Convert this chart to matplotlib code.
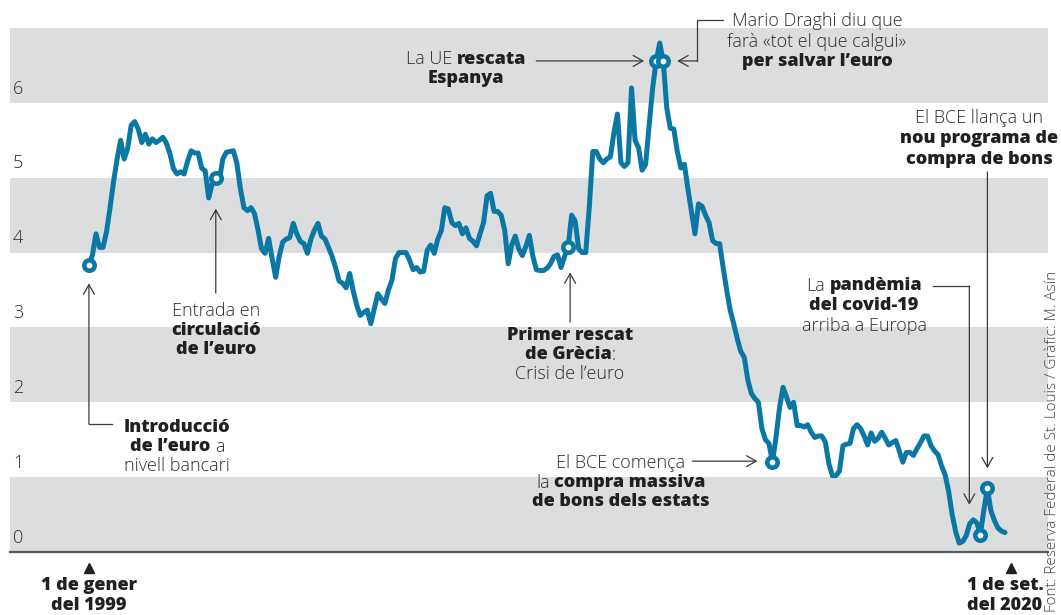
import numpy as np
import matplotlib
matplotlib.use('Agg')
import matplotlib.pyplot as plt
from matplotlib.lines import Line2D
from matplotlib.transforms import IdentityTransform, blended_transform_factory

plt.rcParams['font.family'] = ['Open Sans', 'DejaVu Sans']

W, H = 1061, 615

# Spanish 10-year bond yield, monthly, Jan 1999 - Sep 2020 (%)
yield_1999 = [3.83, 3.97, 4.25, 4.07, 4.07, 4.28, 4.60, 4.95, 5.25, 5.50, 5.25, 5.39]
yield_2000 = [5.70, 5.75, 5.65, 5.47, 5.58, 5.45, 5.52, 5.47, 5.50, 5.54, 5.46, 5.32]
yield_2001 = [5.12, 5.05, 5.08, 5.05, 5.22, 5.36, 5.33, 5.33, 5.13, 5.09, 4.73, 4.92]
yield_2002 = [5.00, 4.96, 5.25, 5.34, 5.35, 5.36, 5.19, 4.85, 4.60, 4.56, 4.60, 4.52]
yield_2003 = [4.30, 4.05, 3.99, 4.19, 3.92, 3.67, 3.95, 4.14, 4.18, 4.20, 4.39, 4.25]
yield_2004 = [4.15, 4.12, 3.99, 4.18, 4.30, 4.39, 4.22, 4.18, 4.07, 3.95, 3.80, 3.62]
yield_2005 = [3.59, 3.53, 3.72, 3.49, 3.30, 3.16, 3.20, 3.23, 3.05, 3.25, 3.45, 3.38]
yield_2006 = [3.32, 3.50, 3.63, 3.92, 4.00, 4.00, 4.00, 3.90, 3.77, 3.80, 3.74, 3.75]
yield_2007 = [4.03, 4.10, 3.99, 4.18, 4.29, 4.60, 4.58, 4.40, 4.36, 4.39, 4.25, 4.33]
yield_2008 = [4.19, 4.15, 4.09, 4.25, 4.40, 4.76, 4.79, 4.55, 4.55, 4.50, 4.30, 3.85]
yield_2009 = [4.10, 4.22, 4.05, 3.96, 4.08, 4.23, 3.95, 3.77, 3.76, 3.76, 3.79, 3.85]
yield_2010 = [3.95, 3.97, 3.80, 3.95, 4.07, 4.50, 4.42, 4.05, 4.00, 4.00, 4.60, 5.35]
yield_2011 = [5.35, 5.25, 5.20, 5.25, 5.28, 5.60, 5.85, 5.20, 5.15, 5.20, 6.20, 5.50]
yield_2012 = [5.40, 5.10, 5.18, 5.70, 6.20, 6.56, 6.80, 6.56, 5.93, 5.66, 5.65, 5.35]
yield_2013 = [5.13, 5.18, 4.85, 4.55, 4.25, 4.65, 4.62, 4.50, 4.40, 4.16, 4.12, 4.12]
yield_2014 = [3.80, 3.50, 3.23, 3.05, 2.85, 2.68, 2.60, 2.30, 2.12, 2.05, 2.00, 1.65]
yield_2015 = [1.50, 1.45, 1.20, 1.53, 1.93, 2.20, 2.07, 1.93, 2.00, 1.69, 1.69, 1.67]
yield_2016 = [1.70, 1.60, 1.53, 1.55, 1.55, 1.47, 1.18, 1.02, 1.02, 1.08, 1.42, 1.44]
yield_2017 = [1.45, 1.65, 1.70, 1.65, 1.55, 1.43, 1.59, 1.48, 1.52, 1.60, 1.52, 1.43]
yield_2018 = [1.46, 1.49, 1.35, 1.20, 1.33, 1.33, 1.29, 1.38, 1.46, 1.55, 1.55, 1.42]
yield_2019 = [1.35, 1.30, 1.15, 1.03, 0.81, 0.50, 0.27, 0.12, 0.14, 0.22, 0.38, 0.43]
yield_2020 = [0.39, 0.23, 0.56, 0.85, 0.55, 0.42, 0.32, 0.28, 0.26]

yields = np.array(yield_1999 + yield_2000 + yield_2001 + yield_2002 + yield_2003
                  + yield_2004 + yield_2005 + yield_2006 + yield_2007 + yield_2008
                  + yield_2009 + yield_2010 + yield_2011 + yield_2012 + yield_2013
                  + yield_2014 + yield_2015 + yield_2016 + yield_2017 + yield_2018
                  + yield_2019 + yield_2020)
months = np.arange(len(yields))  # 0 = gener 1999

y_ticks = [0, 1, 2, 3, 4, 5, 6]
# months (index) of the highlighted events
ev_intro, ev_entrada, ev_grecia = 0, 36, 136
ev_espanya, ev_draghi, ev_qe = 161, 163, 194
ev_covid, ev_pepp = 253, 255
highlights = [ev_intro, ev_entrada, ev_grecia, ev_espanya, ev_draghi, ev_qe, ev_covid, ev_pepp]

BLUE = '#0a77a4'
GREY = '#dcdddf'
INK = '#231f20'
SOFT = '#2e2e2e'
LEAD = '#3a3a3a'
LIGHT = 'light'
HEAVY = 800
FS = 13

fig = plt.figure(figsize=(W / 100, H / 100), dpi=100)
ax = fig.add_axes([10 / W, (H - 552) / H, 1038 / W, 524 / H])
ax.set_xlim(-22.4, 272.2)
ax.set_ylim(0, 7)
ax.axis('off')

for lo in range(0, 7, 2):
    ax.axhspan(lo, lo + 1, color=GREY, lw=0, zorder=0)
ax.axhline(0, color='#58595b', lw=1.6, clip_on=False, zorder=1)

tr = blended_transform_factory(ax.transAxes, ax.transData)
for v in y_ticks:
    ax.text(0.003, v + 0.19, str(v), transform=tr, ha='left', va='center',
            fontsize=13, fontweight=LIGHT, color=SOFT)

ax.plot(months, yields, color=BLUE, lw=3.6, solid_joinstyle='round',
        solid_capstyle='round', zorder=3)
ax.plot(months[highlights], yields[highlights], 'o', ms=7.5, mfc='white',
        mec=BLUE, mew=3.3, zorder=4)

renderer = fig.canvas.get_renderer()


def px(i):
    X, Y = ax.transData.transform((months[i], yields[i]))
    return X, H - Y


def rich(x, y, parts, ha='center', size=FS):
    # parts: (text, bold); a leading space means a word gap
    arts, widths, gaps = [], [], []
    gap = 0.26 * size * 100 / 72
    for s, bold in parts:
        g = gap if s.startswith(' ') else 0
        t = fig.text(0, 0, s.strip(), transform=IdentityTransform(), fontsize=size,
                     fontweight=HEAVY if bold else LIGHT,
                     color=INK if bold else SOFT, ha='left', va='center')
        arts.append(t)
        widths.append(t.get_window_extent(renderer).width)
        gaps.append(g)
    total = sum(widths) + sum(gaps)
    x0 = {'left': x, 'center': x - total / 2, 'right': x - total}[ha]
    for t, w, g in zip(arts, widths, gaps):
        x0 += g
        t.set_position((x0, H - y))
        x0 += w


def block(x, y, lines, step=19.5, ha='center', size=FS):
    for k, parts in enumerate(lines):
        rich(x, y + k * step, parts, ha=ha, size=size)


def leader(points):
    xs = [p[0] for p in points]
    ys = [H - p[1] for p in points]
    if len(points) > 2:
        fig.add_artist(Line2D(xs[:-1], ys[:-1], transform=IdentityTransform(),
                              color=LEAD, lw=0.9))
    ax.annotate('', xy=(xs[-1], ys[-1]), xytext=(xs[-2], ys[-2]),
                xycoords='figure pixels', textcoords='figure pixels',
                arrowprops=dict(arrowstyle='->,head_length=0.5,head_width=0.28',
                                color=LEAD, lw=0.9, shrinkA=0, shrinkB=0,
                                mutation_scale=14))


# Introducció de l'euro
x, y = px(ev_intro)
leader([(x + 23, 424), (x, 424), (x, y + 18)])
block(177, 427, [[('Introducció', True)],
                 [('de l’euro', True), (' a', False)],
                 [('nivell bancari', False)]])

# Entrada en circulació
x, y = px(ev_entrada)
leader([(x, 293), (x, y + 31)])
block(x, 311, [[('Entrada en', False)], [('circulació', True)], [('de l’euro', True)]])

# Primer rescat de Grècia
x, y = px(ev_grecia)
leader([(x + 2, 322), (x + 2, y + 25)])
block(x + 2, 335, [[('Primer rescat', True)],
                   [('de Grècia', True), (':', False)],
                   [('Crisi de l’euro', False)]])

# La UE rescata Espanya
x, y = px(ev_espanya)
leader([(x - 120, y), (x - 12, y)])
block(466, 59, [[('La UE', False), (' rescata', True)], [('Espanya', True)]])

# Draghi
x, y = px(ev_draghi)
leader([(x + 60, 20), (x + 34, 20), (x + 34, y), (x + 14, y)])
block(817, 21, [[('Mario Draghi diu que', False)],
                [('farà «tot el que calgui»', False)],
                [('per salvar l’euro', True)]], step=20.5)

# El BCE comença la compra massiva
x, y = px(ev_qe)
leader([(x - 80, y - 1), (x - 15, y - 1)])
block(621, 463, [[('El BCE comença', False)],
                 [('la', False), (' compra massiva', True)],
                 [('de bons dels estats', True)]])

# Pandèmia
x, y = px(ev_covid)
leader([(x - 47, 286), (x - 11, 286), (x - 11, y - 30)])
block(864, 286, [[('La', False), (' pandèmia', True)],
                 [('del covid-19', True)],
                 [('arriba a Europa', False)]], step=20)

# Nou programa de compra
x, y = px(ev_pepp)
leader([(x, 172), (x, y - 20)])
block(979, 118, [[('El BCE llança un', False)],
                 [('nou programa de', True)],
                 [('compra de bons', True)]], step=20.5)

# Date labels under the axis
x_first, _ = px(0)
x_last, _ = px(len(yields) - 1)
for xt, lines in [(x_first, ['1 de gener', 'del 1999']),
                  (x_last, ['1 de set.', 'del 2020'])]:
    dx = 0 if xt == x_first else 6
    fig.add_artist(Line2D([xt + dx], [H - 568], transform=IdentityTransform(),
                          marker='^', ms=6.5, color=INK, lw=0))
    block(xt, 586, [[(s, True)] for s in lines], step=20, size=13)

fig.text(1053, 3, 'Font: Reserva Federal de St. Louis / Gràfic: M. Asín',
         transform=IdentityTransform(), rotation=90, ha='center', va='bottom',
         fontsize=11, fontweight=LIGHT, color='#444444')

fig.savefig('out.png', dpi=100)
